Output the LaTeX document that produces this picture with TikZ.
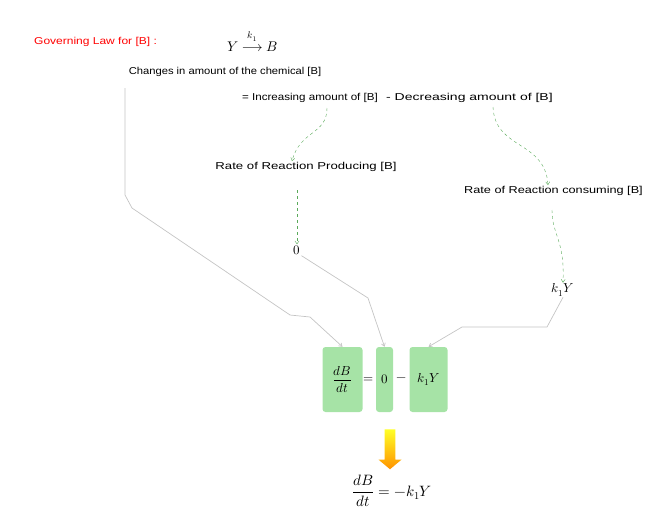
\documentclass[tikz,border=0pt]{standalone}
\usepackage{amsmath}
\usepackage{fontspec}
\setmainfont{Liberation Sans}
\usepackage{unicode-math}
\setmathfont{Latin Modern Math}
\usetikzlibrary{arrows.meta,shapes.arrows}
\definecolor{boxgreen}{HTML}{A6E3A6}
\definecolor{arrgreen}{HTML}{5AAA5A}
\definecolor{linegray}{HTML}{C4C4C4}
\newcommand{\hsc}[2]{\scalebox{#1}[1]{#2}}
\tikzset{
  lbl/.style={font=\fontsize{10}{11}\selectfont, inner sep=1pt},
  eqn/.style={font=\fontsize{13}{15}\selectfont, inner sep=1pt},
  termbox/.style={fill=boxgreen, rounded corners=3pt, draw=none},
  greenarrow/.style={draw=arrgreen, dashed, thin, -{Straight Barb[length=3pt,width=4pt]}},
  grayline/.style={draw=linegray, line width=0.7pt, -{Straight Barb[length=3pt,width=4pt]}},
}
\begin{document}
\begin{tikzpicture}[x=1pt,y=-1pt]
\useasboundingbox (0,0) rectangle (651,520);
% header
\node[lbl, text=red, anchor=west] (gov) at (33,42) {\hsc{1.2}{Governing Law for [B] :}};
\node[eqn, font=\fontsize{14}{16}\selectfont, anchor=west] (govmath) at (226,41) {$Y\overset{k_1}{\longrightarrow}B$};
\node[lbl] (changes) at (225,72) {\hsc{1.12}{Changes in amount of the chemical [B]}};
\node[lbl] (inc) at (310,98) {\hsc{1.16}{= Increasing amount of [B]}};
\node[lbl, anchor=west] (dec) at (385,98) {\hsc{1.4}{- Decreasing amount of [B]}};
\node[lbl] (prod) at (306,167) {\hsc{1.32}{Rate of Reaction Producing [B]}};
\node[lbl, anchor=west] (cons) at (463,191) {\hsc{1.27}{Rate of Reaction consuming [B]}};
\node[eqn] (zero) at (297,250) {$0$};
\node[eqn] (kY) at (563,290) {$k_1Y$};
% boxes
\node[termbox, minimum width=40pt, minimum height=65pt] (box1) at (342.5,379.5) {};
\node[termbox, minimum width=17pt, minimum height=65pt] (box2) at (384.5,379.5) {};
\node[termbox, minimum width=38pt, minimum height=65pt] (box3) at (428.5,379.5) {};
\node[eqn] (t1) at (box1.center) {$\dfrac{dB}{dt}$};
\node[eqn] (eqs) at (369,380) {$=$};
\node[eqn] (t2) at (box2.center) {$0$};
\node[eqn] (mns) at (401.5,380) {$-$};
\node[eqn] (t3) at (box3.center) {$k_1Y$};
% green arrows
\coordinate (a1) at (327,108);
\coordinate (a2) at (493,107);
\coordinate (a3) at (297,190);
\coordinate (a4) at (552,210);
\draw[greenarrow] (a1) .. controls (327,135) and (300,130) .. (prod.north -| 292,0);
\draw[greenarrow] (a2) .. controls (495,150) and (545,140) .. (cons.north -| 548,0);
\draw[greenarrow] (a3) -- (zero.north);
\draw[greenarrow] (a4) .. controls (552,235) and (565,240) .. (kY.north);
% gray connectors
\coordinate (c0) at (125,88);
\draw[grayline] (c0) -- (125,195) -- (132,208) -- (290,315) -- (310,317) -- (box1.north);
\draw[grayline] (zero.south east) -- (368,298) -- (box2.north);
\draw[grayline] (kY.south) -- (547,327) -- (462,327) -- (box3.north);
% yellow arrow
\node[single arrow, draw=none, shape border rotate=270, minimum height=40pt, minimum width=23pt, single arrow head extend=4pt, single arrow tip angle=100, top color=yellow!85!white, bottom color=orange!85!yellow] (yarr) at (390,447) {};
\node[eqn, font=\fontsize{15}{17}\selectfont] (res) at (392,491) {$\dfrac{dB}{dt}=-k_1Y$};
\end{tikzpicture}
\end{document}
